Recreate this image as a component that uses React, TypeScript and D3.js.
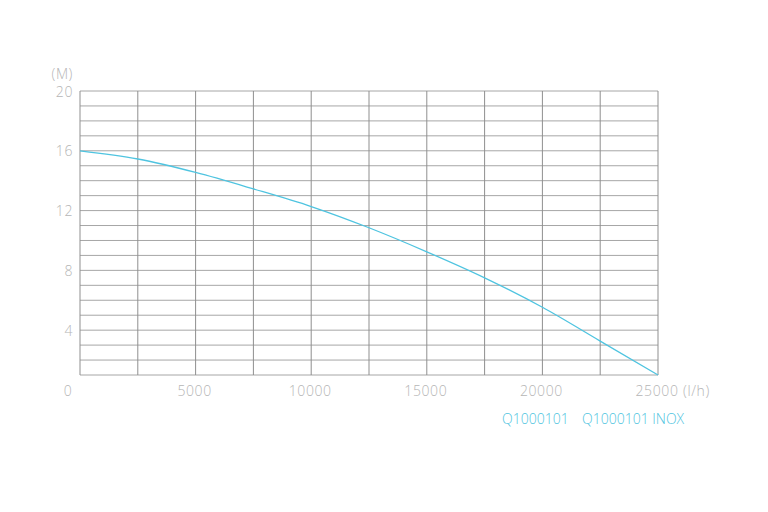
import React from "react";
import * as d3 from "d3";

const flowValues = [0, 2500, 5000, 7500, 10000, 12500, 15000, 17500, 20000, 22500, 25000];
const headValues = [16, 15.45, 14.55, 13.45, 12.27, 10.85, 9.24, 7.5, 5.53, 3.27, 1.0];
const xTickValues = [5000, 10000, 15000, 20000, 25000];
const yTickValues = [4, 8, 12, 16, 20];
const yGridValues = d3.range(1, 21);
const xGridValues = d3.range(0, 25001, 2500);
const legendLabels = ["Q1000101", "Q1000101 INOX"];

export default function App() {
  const W = 768, H = 512;
  const x = d3.scaleLinear().domain([0, 25000]).range([80, 658]);
  const y = d3.scaleLinear().domain([1, 20]).range([375, 91]);
  const pts = flowValues.map((f, i) => [f, headValues[i]] as [number, number]);
  const line = d3.line<[number, number]>().x(d => x(d[0])).y(d => y(d[1])).curve(d3.curveMonotoneX);
  const font = "'Open Sans', Lato, sans-serif";
  const labelColor = "#b5b5b5";
  const cyan = "#4fc4e0";
  return (
    <svg width={W} height={H} style={{ position: "absolute", left: 0, top: 0, background: "#fff" }}>
      <g>
        {yGridValues.map(v => (
          <line key={"h" + v} x1={x(0)} x2={x(25000)} y1={y(v)} y2={y(v)} stroke="#a6a6a6" strokeWidth={1} />
        ))}
        {xGridValues.map(v => (
          <line key={"v" + v} x1={x(v)} x2={x(v)} y1={y(20)} y2={y(1)} stroke="#8f8f8f" strokeWidth={1} />
        ))}
      </g>
      <path d={line(pts) || ""} fill="none" stroke={cyan} strokeWidth={1.3} />
      <g fontFamily={font} fontWeight={300} fontSize={14} letterSpacing={0.6} fill={labelColor}>
        {yTickValues.map(v => (
          <text key={"yt" + v} x={73} y={y(v)} textAnchor="end" dominantBaseline="central">{v}</text>
        ))}
        <text x={73} y={73} textAnchor="end" dominantBaseline="central">(M)</text>
        <text x={68} y={390} textAnchor="middle" dominantBaseline="central">0</text>
        {xTickValues.map(v => (
          <text key={"xt" + v} x={x(v) - 1} y={390} textAnchor="middle" dominantBaseline="central">{v}</text>
        ))}
        <text x={683} y={390} textAnchor="start" dominantBaseline="central">(l/h)</text>
      </g>
      <g fontFamily={font} fontWeight={300} fontSize={14} fill={cyan}>
        <text x={502} y={418} dominantBaseline="central">{legendLabels[0]}</text>
        <text x={582} y={418} dominantBaseline="central">{legendLabels[1]}</text>
      </g>
    </svg>
  );
}
